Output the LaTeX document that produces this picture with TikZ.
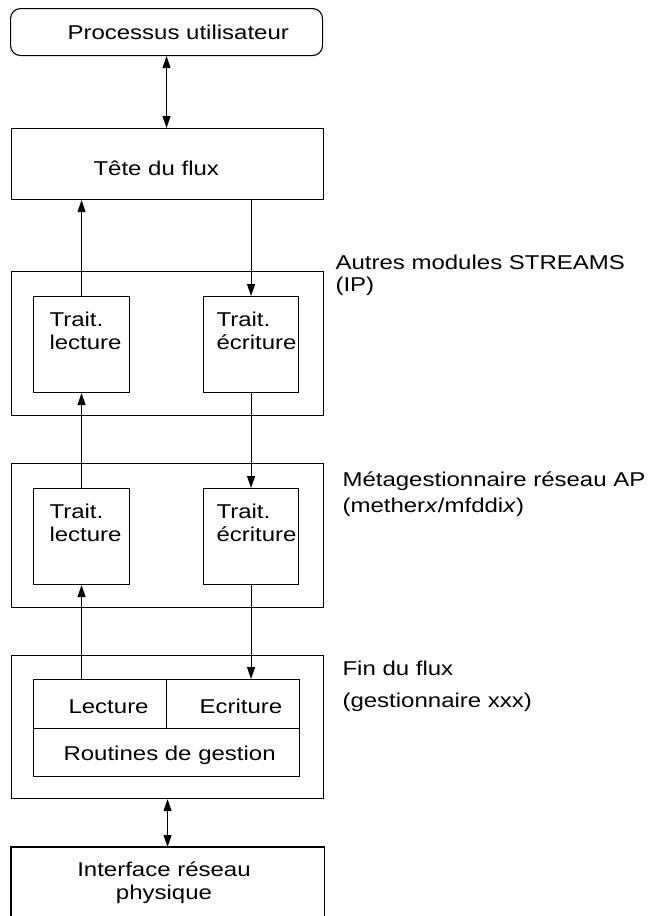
\documentclass[tikz,border=0pt]{standalone}
\usepackage{fontspec}
\setmainfont{Liberation Sans}[FakeStretch=1.2]
\usetikzlibrary{arrows.meta}
\begin{document}
\begin{tikzpicture}[x=1pt,y=-1pt,line width=1.1pt,
  box/.style={draw,inner sep=0pt,anchor=north west},
  txt/.style={inner sep=0pt,anchor=base west,align=left,font=\fontsize{20pt}{23pt}\selectfont},
  arr/.style={-{Triangle[length=12pt,width=8pt]},line width=1pt},
  darr/.style={{Triangle[length=12pt,width=8pt]}-{Triangle[length=12pt,width=8pt]},line width=1pt}]
\useasboundingbox (0,0) rectangle (651,916);
% boxes
\node[box,rounded corners=10pt,minimum width=312pt,minimum height=47pt] (proc) at (10,8) {};
\node[box,minimum width=312pt,minimum height=71pt] (tete) at (11,128) {};
\node[box,minimum width=312pt,minimum height=144pt] (m1) at (11,271) {};
\node[box,minimum width=96pt,minimum height=96pt] (l1) at (33,296) {};
\node[box,minimum width=95pt,minimum height=96pt] (r1) at (203,296) {};
\node[box,minimum width=312pt,minimum height=144pt] (m2) at (11,463) {};
\node[box,minimum width=96pt,minimum height=96pt] (l2) at (33,488) {};
\node[box,minimum width=95pt,minimum height=96pt] (r2) at (203,488) {};
\node[box,minimum width=312pt,minimum height=143pt] (m3) at (11,655) {};
\node[box,minimum width=133pt,minimum height=49pt] (lec) at (33,679) {};
\node[box,minimum width=133pt,minimum height=49pt] (ecr) at (166,679) {};
\node[box,minimum width=266pt,minimum height=48pt] (rout) at (33,728) {};
\node[box,draw=none,minimum width=312pt,minimum height=72pt] (iface) at (11,847) {};
\draw (iface.south west) -- (iface.north west) -- (iface.north east) -- (iface.south east);
% texts
\node[txt] (tproc) at (67,39) {Processus utilisateur};
\node[txt] (ttete) at (93,175) {Tête du flux};
\node[txt] (tl1) at (49,349) {Trait.\\lecture};
\node[txt] (tr1) at (216,349) {Trait.\\écriture};
\node[txt] (tl2) at (49,541) {Trait.\\lecture};
\node[txt] (tr2) at (216,541) {Trait.\\écriture};
\node[txt] (tlec) at (68,713) {Lecture};
\node[txt] (tecr) at (199,713) {Ecriture};
\node[txt] (trout) at (63,760) {Routines de gestion};
\node[txt,anchor=base,align=center] (tif) at (164,899) {Interface réseau\\physique};
\node[txt] (lab1) at (335,291) {Autres modules STREAMS\\[-1pt](IP)};
\node[txt] (lab2) at (342,512) {Métagestionnaire réseau AP\\[3pt](mether\textit{x}/mfddi\textit{x})};
\node[txt] (lab3) at (342,707) {Fin du flux\\[9pt](gestionnaire xxx)};
% connectors
\draw[darr] (proc.south) -- (proc.south |- tete.north);
\draw[arr] (l1.north) -- (l1.north |- tete.south);
\draw[arr] (r1.north |- tete.south) -- (r1.north);
\draw[arr] (l2.north) -- (l1.south);
\draw[arr] (r1.south) -- (r2.north);
\draw[arr] (l2.south |- lec.north) -- (l2.south);
\draw[arr] (r2.south) -- (r2.south |- ecr.north);
\draw[darr] (m3.south) -- (m3.south |- iface.north);
\end{tikzpicture}
\end{document}
